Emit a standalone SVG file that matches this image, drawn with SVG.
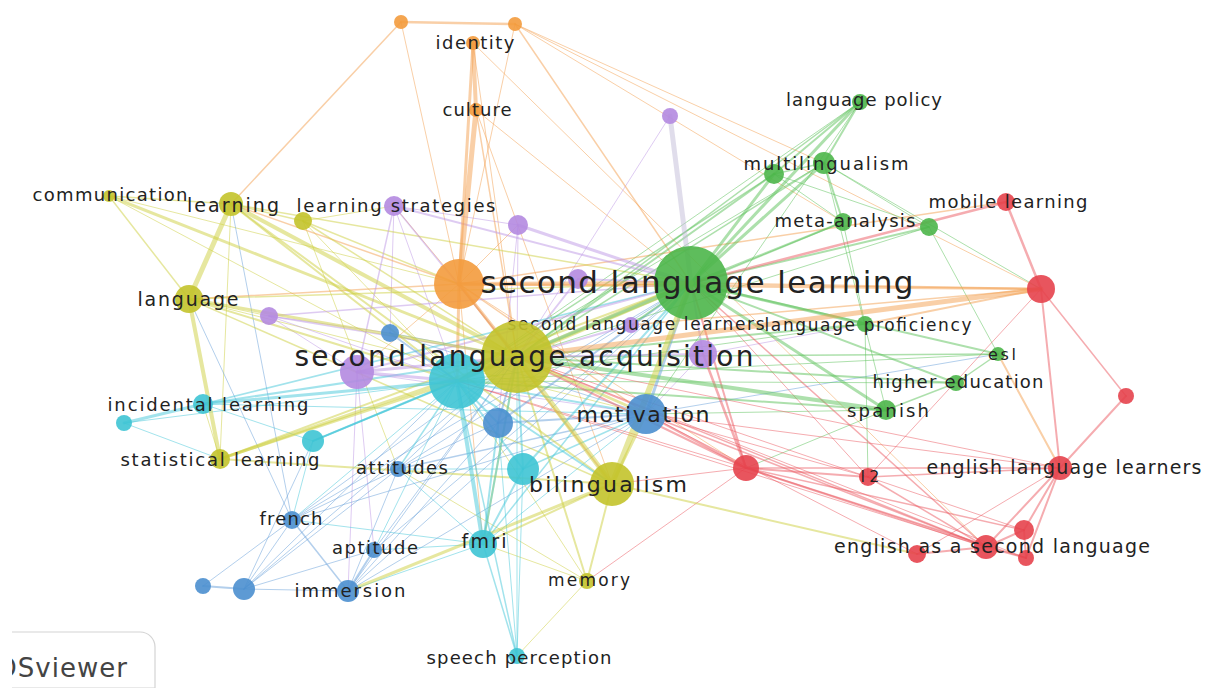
<svg xmlns="http://www.w3.org/2000/svg" width="1207" height="688" viewBox="0 0 1207 688">
<style>
#edges line{fill:none;stroke-linecap:round;stroke-opacity:.5}
.o{stroke:#f4a050}.y{stroke:#cdd040}.p{stroke:#bd98e6}.c{stroke:#45c8d9}.b{stroke:#67a0da}.g{stroke:#5cc259}.r{stroke:#eb5a61}
circle{fill-opacity:.9}
.no{fill:#f39b3d}.ny{fill:#c3c32b}.np{fill:#b48ae0}.nc{fill:#3ec4d4}.nb{fill:#4b8fcf}.ng{fill:#4cb64a}.nr{fill:#e6434c}
text{font-family:"DejaVu Sans","Noto Sans",sans-serif;fill:#222;text-anchor:middle}
</style>
<defs><clipPath id="clipLogo"><rect x="12" y="600" width="300" height="88"/></clipPath></defs>
<rect width="1207" height="688" fill="#fff"/>
<g id="edges">
<g stroke-width="1">
<line class="o" x1="401" y1="22" x2="459" y2="284"/><line class="o" x1="515" y1="24" x2="459" y2="284"/><line class="o" x1="515" y1="24" x2="824" y2="163"/><line class="o" x1="515" y1="24" x2="843" y2="222"/><line class="o" x1="515" y1="24" x2="1041" y2="289"/><line class="o" x1="476" y1="110" x2="691" y2="283"/><line class="o" x1="476" y1="110" x2="612" y2="484"/><line class="o" x1="473" y1="43" x2="517" y2="357"/><line class="o" x1="473" y1="43" x2="986" y2="547"/><line class="o" x1="459" y1="284" x2="357" y2="372"/><line class="o" x1="459" y1="284" x2="394" y2="206"/><line class="o" x1="459" y1="284" x2="483" y2="544"/><line class="o" x1="459" y1="284" x2="746" y2="468"/><line class="o" x1="518" y1="225" x2="459" y2="284"/>
<line class="y" x1="109" y1="196" x2="459" y2="284"/><line class="y" x1="109" y1="196" x2="457" y2="381"/><line class="y" x1="231" y1="204" x2="220" y2="459"/><line class="y" x1="303" y1="221" x2="457" y2="381"/><line class="y" x1="303" y1="221" x2="398" y2="469"/><line class="y" x1="189" y1="299" x2="269" y2="316"/><line class="y" x1="189" y1="299" x2="646" y2="414"/><line class="y" x1="220" y1="459" x2="203" y2="404"/><line class="y" x1="587" y1="581" x2="457" y2="381"/><line class="y" x1="587" y1="581" x2="483" y2="544"/><line class="y" x1="587" y1="581" x2="398" y2="469"/><line class="y" x1="394" y1="206" x2="303" y2="221"/><line class="y" x1="517" y1="656" x2="587" y2="581"/>
<line class="p" x1="394" y1="206" x2="457" y2="381"/><line class="p" x1="394" y1="206" x2="518" y2="225"/><line class="p" x1="394" y1="206" x2="390" y2="333"/><line class="p" x1="518" y1="225" x2="517" y2="357"/><line class="p" x1="518" y1="225" x2="498" y2="423"/><line class="p" x1="670" y1="116" x2="517" y2="357"/><line class="p" x1="269" y1="316" x2="357" y2="372"/><line class="p" x1="269" y1="316" x2="457" y2="381"/><line class="p" x1="269" y1="316" x2="390" y2="333"/><line class="p" x1="357" y1="372" x2="374" y2="550"/><line class="p" x1="357" y1="372" x2="348" y2="591"/><line class="p" x1="357" y1="372" x2="646" y2="414"/><line class="p" x1="703" y1="354" x2="865" y2="324"/><line class="p" x1="703" y1="354" x2="646" y2="414"/>
<line class="c" x1="124" y1="423" x2="457" y2="381"/><line class="c" x1="220" y1="459" x2="124" y2="423"/><line class="c" x1="457" y1="381" x2="292" y2="520"/><line class="c" x1="457" y1="381" x2="374" y2="550"/><line class="c" x1="203" y1="404" x2="313" y2="441"/><line class="c" x1="203" y1="404" x2="646" y2="414"/><line class="c" x1="313" y1="441" x2="292" y2="520"/><line class="c" x1="483" y1="544" x2="398" y2="469"/><line class="c" x1="483" y1="544" x2="292" y2="520"/><line class="c" x1="483" y1="544" x2="374" y2="550"/><line class="c" x1="483" y1="544" x2="348" y2="591"/><line class="c" x1="483" y1="544" x2="646" y2="414"/><line class="c" x1="523" y1="469" x2="517" y2="656"/><line class="c" x1="523" y1="469" x2="398" y2="469"/><line class="c" x1="517" y1="656" x2="517" y2="357"/><line class="c" x1="517" y1="656" x2="498" y2="423"/>
<line class="b" x1="231" y1="204" x2="292" y2="520"/><line class="b" x1="313" y1="441" x2="244" y2="589"/><line class="b" x1="390" y1="333" x2="646" y2="414"/><line class="b" x1="390" y1="333" x2="517" y2="357"/><line class="b" x1="498" y1="423" x2="398" y2="469"/><line class="b" x1="498" y1="423" x2="348" y2="591"/><line class="b" x1="646" y1="414" x2="292" y2="520"/><line class="b" x1="646" y1="414" x2="348" y2="591"/><line class="b" x1="646" y1="414" x2="998" y2="354"/><line class="b" x1="398" y1="469" x2="292" y2="520"/><line class="b" x1="398" y1="469" x2="244" y2="589"/><line class="b" x1="398" y1="469" x2="348" y2="591"/><line class="b" x1="398" y1="469" x2="517" y2="357"/><line class="b" x1="398" y1="469" x2="691" y2="283"/><line class="b" x1="292" y1="520" x2="203" y2="586"/><line class="b" x1="292" y1="520" x2="244" y2="589"/><line class="b" x1="292" y1="520" x2="517" y2="357"/><line class="b" x1="292" y1="520" x2="189" y2="299"/><line class="b" x1="292" y1="520" x2="691" y2="283"/><line class="b" x1="374" y1="550" x2="517" y2="357"/><line class="b" x1="374" y1="550" x2="244" y2="589"/><line class="b" x1="374" y1="550" x2="691" y2="283"/><line class="b" x1="244" y1="589" x2="348" y2="591"/><line class="b" x1="244" y1="589" x2="517" y2="357"/><line class="b" x1="244" y1="589" x2="457" y2="381"/><line class="b" x1="348" y1="591" x2="517" y2="357"/><line class="b" x1="348" y1="591" x2="691" y2="283"/>
<line class="g" x1="860" y1="102" x2="457" y2="381"/><line class="g" x1="860" y1="102" x2="646" y2="414"/><line class="g" x1="774" y1="174" x2="929" y2="227"/><line class="g" x1="774" y1="174" x2="843" y2="222"/><line class="g" x1="824" y1="163" x2="886" y2="410"/><line class="g" x1="824" y1="163" x2="1041" y2="289"/><line class="g" x1="824" y1="163" x2="929" y2="227"/><line class="g" x1="824" y1="163" x2="457" y2="381"/><line class="g" x1="843" y1="222" x2="865" y2="324"/><line class="g" x1="929" y1="227" x2="998" y2="354"/><line class="g" x1="929" y1="227" x2="517" y2="357"/><line class="g" x1="998" y1="354" x2="457" y2="381"/><line class="g" x1="956" y1="383" x2="457" y2="381"/><line class="g" x1="886" y1="410" x2="646" y2="414"/><line class="g" x1="886" y1="410" x2="746" y2="468"/><line class="g" x1="865" y1="324" x2="868" y2="477"/><line class="g" x1="865" y1="324" x2="457" y2="381"/>
<line class="r" x1="587" y1="581" x2="746" y2="468"/><line class="r" x1="612" y1="484" x2="746" y2="468"/><line class="r" x1="1041" y1="289" x2="868" y2="477"/><line class="r" x1="1060" y1="468" x2="917" y2="554"/><line class="r" x1="1060" y1="468" x2="646" y2="414"/><line class="r" x1="1060" y1="468" x2="517" y2="357"/><line class="r" x1="746" y1="468" x2="457" y2="381"/><line class="r" x1="646" y1="414" x2="868" y2="477"/><line class="r" x1="868" y1="477" x2="1024" y2="530"/><line class="r" x1="868" y1="477" x2="517" y2="357"/><line class="r" x1="868" y1="477" x2="691" y2="283"/><line class="r" x1="986" y1="547" x2="457" y2="381"/><line class="r" x1="917" y1="554" x2="646" y2="414"/><line class="r" x1="1026" y1="558" x2="517" y2="357"/>
</g>
<g stroke-width="1.5">
<line class="o" x1="401" y1="22" x2="231" y2="204"/><line class="o" x1="515" y1="24" x2="691" y2="283"/><line class="o" x1="476" y1="110" x2="517" y2="357"/><line class="o" x1="459" y1="284" x2="1006" y2="202"/><line class="o" x1="459" y1="284" x2="646" y2="414"/><line class="o" x1="459" y1="284" x2="231" y2="204"/><line class="o" x1="459" y1="284" x2="189" y2="299"/><line class="o" x1="631" y1="325" x2="1041" y2="289"/>
<line class="y" x1="109" y1="196" x2="231" y2="204"/><line class="y" x1="109" y1="196" x2="189" y2="299"/><line class="y" x1="231" y1="204" x2="303" y2="221"/><line class="y" x1="231" y1="204" x2="691" y2="283"/><line class="y" x1="303" y1="221" x2="517" y2="357"/><line class="y" x1="303" y1="221" x2="459" y2="284"/><line class="y" x1="189" y1="299" x2="691" y2="283"/><line class="y" x1="189" y1="299" x2="612" y2="484"/>
<line class="p" x1="394" y1="206" x2="357" y2="372"/><line class="p" x1="394" y1="206" x2="517" y2="357"/><line class="p" x1="269" y1="316" x2="691" y2="283"/><line class="p" x1="269" y1="316" x2="517" y2="357"/>
<line class="c" x1="457" y1="381" x2="517" y2="656"/><line class="c" x1="457" y1="381" x2="398" y2="469"/><line class="c" x1="313" y1="441" x2="517" y2="357"/><line class="c" x1="203" y1="404" x2="691" y2="283"/><line class="c" x1="313" y1="441" x2="691" y2="283"/><line class="c" x1="483" y1="544" x2="517" y2="656"/><line class="c" x1="483" y1="544" x2="691" y2="283"/><line class="c" x1="523" y1="469" x2="646" y2="414"/>
<line class="b" x1="646" y1="414" x2="398" y2="469"/><line class="b" x1="292" y1="520" x2="348" y2="591"/>
<line class="g" x1="860" y1="102" x2="517" y2="357"/><line class="g" x1="774" y1="174" x2="824" y2="163"/><line class="g" x1="774" y1="174" x2="457" y2="381"/><line class="g" x1="824" y1="163" x2="517" y2="357"/><line class="g" x1="843" y1="222" x2="517" y2="357"/><line class="g" x1="998" y1="354" x2="956" y2="383"/><line class="g" x1="998" y1="354" x2="517" y2="357"/><line class="g" x1="956" y1="383" x2="886" y2="410"/>
<line class="r" x1="1041" y1="289" x2="1126" y2="396"/><line class="r" x1="1060" y1="468" x2="868" y2="477"/><line class="r" x1="1060" y1="468" x2="746" y2="468"/><line class="r" x1="746" y1="468" x2="1024" y2="530"/><line class="r" x1="746" y1="468" x2="1026" y2="558"/><line class="r" x1="646" y1="414" x2="986" y2="547"/><line class="r" x1="868" y1="477" x2="986" y2="547"/><line class="r" x1="986" y1="547" x2="691" y2="283"/><line class="r" x1="986" y1="547" x2="517" y2="357"/>
</g>
<g stroke-width="2">
<line class="o" x1="459" y1="284" x2="612" y2="484"/><line class="o" x1="1041" y1="289" x2="691" y2="283"/><line class="o" x1="865" y1="324" x2="1041" y2="289"/><line class="o" x1="998" y1="354" x2="1060" y2="468"/>
<line class="y" x1="231" y1="204" x2="457" y2="381"/><line class="y" x1="231" y1="204" x2="612" y2="484"/><line class="y" x1="189" y1="299" x2="457" y2="381"/><line class="y" x1="220" y1="459" x2="612" y2="484"/><line class="y" x1="220" y1="459" x2="691" y2="283"/><line class="y" x1="517" y1="357" x2="587" y2="581"/><line class="y" x1="517" y1="357" x2="483" y2="544"/><line class="y" x1="612" y1="484" x2="587" y2="581"/><line class="y" x1="612" y1="484" x2="483" y2="544"/><line class="y" x1="612" y1="484" x2="917" y2="554"/>
<line class="p" x1="394" y1="206" x2="691" y2="283"/><line class="p" x1="578" y1="279" x2="691" y2="283"/><line class="p" x1="578" y1="279" x2="517" y2="357"/><line class="p" x1="357" y1="372" x2="691" y2="283"/><line class="p" x1="631" y1="325" x2="517" y2="357"/><line class="p" x1="703" y1="354" x2="691" y2="283"/><line class="p" x1="703" y1="354" x2="517" y2="357"/>
<line class="c" x1="457" y1="381" x2="313" y2="441"/><line class="c" x1="457" y1="381" x2="523" y2="469"/><line class="c" x1="457" y1="381" x2="646" y2="414"/><line class="c" x1="457" y1="381" x2="498" y2="423"/><line class="c" x1="457" y1="381" x2="612" y2="484"/><line class="c" x1="203" y1="404" x2="517" y2="357"/><line class="c" x1="483" y1="544" x2="523" y2="469"/><line class="c" x1="483" y1="544" x2="498" y2="423"/><line class="c" x1="483" y1="544" x2="517" y2="357"/><line class="c" x1="523" y1="469" x2="517" y2="357"/><line class="c" x1="523" y1="469" x2="691" y2="283"/>
<line class="b" x1="390" y1="333" x2="457" y2="381"/><line class="b" x1="498" y1="423" x2="646" y2="414"/><line class="b" x1="498" y1="423" x2="517" y2="357"/><line class="b" x1="498" y1="423" x2="691" y2="283"/><line class="b" x1="374" y1="550" x2="348" y2="591"/><line class="b" x1="203" y1="586" x2="244" y2="589"/>
<line class="g" x1="631" y1="325" x2="691" y2="283"/><line class="g" x1="691" y1="283" x2="843" y2="222"/><line class="g" x1="691" y1="283" x2="929" y2="227"/><line class="g" x1="691" y1="283" x2="998" y2="354"/><line class="g" x1="691" y1="283" x2="956" y2="383"/><line class="g" x1="860" y1="102" x2="774" y2="174"/><line class="g" x1="860" y1="102" x2="824" y2="163"/><line class="g" x1="774" y1="174" x2="517" y2="357"/><line class="g" x1="824" y1="163" x2="843" y2="222"/><line class="g" x1="956" y1="383" x2="517" y2="357"/><line class="g" x1="886" y1="410" x2="457" y2="381"/><line class="g" x1="865" y1="324" x2="517" y2="357"/>
<line class="r" x1="1126" y1="396" x2="1060" y2="468"/><line class="r" x1="1041" y1="289" x2="1060" y2="468"/><line class="r" x1="1060" y1="468" x2="1024" y2="530"/><line class="r" x1="1060" y1="468" x2="986" y2="547"/><line class="r" x1="1060" y1="468" x2="1026" y2="558"/><line class="r" x1="646" y1="414" x2="746" y2="468"/><line class="r" x1="746" y1="468" x2="868" y2="477"/><line class="r" x1="746" y1="468" x2="986" y2="547"/><line class="r" x1="746" y1="468" x2="691" y2="283"/><line class="r" x1="746" y1="468" x2="517" y2="357"/><line class="r" x1="986" y1="547" x2="917" y2="554"/><line class="r" x1="986" y1="547" x2="1024" y2="530"/><line class="r" x1="986" y1="547" x2="1026" y2="558"/><line class="r" x1="1024" y1="530" x2="1026" y2="558"/>
</g>
<g stroke-width="2.5">
<line class="o" x1="401" y1="22" x2="515" y2="24"/><line class="o" x1="459" y1="284" x2="1041" y2="289"/>
<line class="y" x1="220" y1="459" x2="457" y2="381"/>
<line class="r" x1="1006" y1="202" x2="1041" y2="289"/><line class="r" x1="691" y1="283" x2="1006" y2="202"/><line class="r" x1="703" y1="354" x2="746" y2="468"/>
</g>
<g stroke-width="3">
<line class="o" x1="473" y1="43" x2="459" y2="284"/><line class="o" x1="459" y1="284" x2="517" y2="357"/><line class="o" x1="459" y1="284" x2="457" y2="381"/>
<line class="y" x1="109" y1="196" x2="517" y2="357"/><line class="y" x1="189" y1="299" x2="517" y2="357"/><line class="y" x1="220" y1="459" x2="517" y2="357"/><line class="y" x1="517" y1="357" x2="646" y2="414"/><line class="y" x1="612" y1="484" x2="646" y2="414"/><line class="y" x1="612" y1="484" x2="348" y2="591"/>
<line class="p" x1="518" y1="225" x2="691" y2="283"/><line class="p" x1="357" y1="372" x2="517" y2="357"/><line class="p" x1="357" y1="372" x2="457" y2="381"/>
<line class="c" x1="457" y1="381" x2="203" y2="404"/><line class="c" x1="203" y1="404" x2="124" y2="423"/><line class="c" x1="457" y1="381" x2="691" y2="283"/>
<line class="b" x1="646" y1="414" x2="691" y2="283"/>
<line class="g" x1="691" y1="283" x2="860" y2="102"/><line class="g" x1="691" y1="283" x2="774" y2="174"/><line class="g" x1="691" y1="283" x2="824" y2="163"/><line class="g" x1="691" y1="283" x2="865" y2="324"/><line class="g" x1="691" y1="283" x2="886" y2="410"/>
</g>
<g stroke-width="4">
<line class="o" x1="473" y1="43" x2="476" y2="110"/><line class="o" x1="459" y1="284" x2="691" y2="283"/>
<line class="y" x1="231" y1="204" x2="517" y2="357"/><line class="y" x1="189" y1="299" x2="220" y2="459"/><line class="y" x1="517" y1="357" x2="457" y2="381"/>
<line class="c" x1="457" y1="381" x2="483" y2="544"/>
<line class="g" x1="886" y1="410" x2="517" y2="357"/>
</g>
<g stroke-width="5">
<line class="o" x1="476" y1="110" x2="459" y2="284"/><line class="o" x1="517" y1="357" x2="1041" y2="289"/>
<line class="y" x1="231" y1="204" x2="189" y2="299"/><line class="y" x1="517" y1="357" x2="612" y2="484"/><line class="y" x1="517" y1="357" x2="691" y2="283"/>
<line class="p" x1="670" y1="116" x2="691" y2="283" style="stroke:#c2bcd8"/>
</g>
<g stroke-width="6">
<line class="y" x1="612" y1="484" x2="691" y2="283"/>
</g>
</g>
<g id="nodes">
<g id="n-o1"><circle class="no" cx="401" cy="22" r="7"/></g>
<g id="n-o2"><circle class="no" cx="515" cy="24" r="7"/></g>
<g id="n-o3"><circle class="no" cx="459" cy="284" r="25"/></g>
<g id="n-y3"><circle class="ny" cx="303" cy="221" r="9"/></g>
<g id="n-p2"><circle class="np" cx="518" cy="225" r="10"/></g>
<g id="n-p3"><circle class="np" cx="670" cy="116" r="8"/></g>
<g id="n-p4"><circle class="np" cx="578" cy="279" r="10"/></g>
<g id="n-p5"><circle class="np" cx="269" cy="316" r="9"/></g>
<g id="n-p6"><circle class="np" cx="357" cy="372" r="17"/></g>
<g id="n-p8"><circle class="np" cx="703" cy="354" r="14"/></g>
<g id="n-c1"><circle class="nc" cx="457" cy="381" r="28"/></g>
<g id="n-c3"><circle class="nc" cx="124" cy="423" r="8"/></g>
<g id="n-c4"><circle class="nc" cx="313" cy="441" r="11"/></g>
<g id="n-c5"><circle class="nc" cx="523" cy="469" r="16"/></g>
<g id="n-b1"><circle class="nb" cx="390" cy="333" r="9"/></g>
<g id="n-b2"><circle class="nb" cx="498" cy="423" r="15"/></g>
<g id="n-b7"><circle class="nb" cx="203" cy="586" r="8"/></g>
<g id="n-b8"><circle class="nb" cx="244" cy="589" r="11"/></g>
<g id="n-g2"><circle class="ng" cx="774" cy="174" r="10"/></g>
<g id="n-g6"><circle class="ng" cx="929" cy="227" r="9"/></g>
<g id="n-r2"><circle class="nr" cx="1041" cy="289" r="14"/></g>
<g id="n-r3"><circle class="nr" cx="746" cy="468" r="13"/></g>
<g id="n-r5"><circle class="nr" cx="1126" cy="396" r="8"/></g>
<g id="n-r7"><circle class="nr" cx="1024" cy="530" r="10"/></g>
<g id="n-r9"><circle class="nr" cx="917" cy="554" r="9"/></g>
<g id="n-r10"><circle class="nr" cx="1026" cy="558" r="8"/></g>
<g id="n-identity"><circle class="no" cx="473" cy="43" r="7"/><text x="475" y="49" font-size="18" textLength="79">identity</text></g>
<g id="n-culture"><circle class="no" cx="476" cy="110" r="7"/><text x="477" y="116" font-size="18" textLength="69">culture</text></g>
<g id="n-communication"><circle class="ny" cx="109" cy="196" r="6"/><text x="110" y="201" font-size="18" textLength="155">communication</text></g>
<g id="n-learning"><circle class="ny" cx="231" cy="204" r="12"/><text x="233" y="212" font-size="19" textLength="92">learning</text></g>
<g id="n-learning-strategies"><circle class="np" cx="394" cy="206" r="10"/><text x="396" y="212" font-size="18" textLength="199">learning strategies</text></g>
<g id="n-language-policy"><circle class="ng" cx="860" cy="102" r="8"/><text x="864" y="106" font-size="18" textLength="156">language policy</text></g>
<g id="n-multilingualism"><circle class="ng" cx="824" cy="163" r="11"/><text x="826" y="170" font-size="18" textLength="165">multilingualism</text></g>
<g id="n-mobile-learning"><circle class="nr" cx="1006" cy="202" r="9"/><text x="1008" y="208" font-size="18" textLength="159">mobile learning</text></g>
<g id="n-meta-analysis"><circle class="ng" cx="843" cy="222" r="9"/><text x="845" y="227" font-size="18" textLength="141">meta-analysis</text></g>
<g id="n-language"><circle class="ny" cx="189" cy="299" r="14"/><text x="188" y="306" font-size="19" textLength="101">language</text></g>
<g id="n-second-language-learning"><circle class="ng" cx="691" cy="283" r="37"/><text x="697" y="293" font-size="31" textLength="433">second language learning</text></g>
<g id="n-second-language-learners"><circle class="np" cx="631" cy="325" r="8"/><text x="636" y="330" font-size="17" textLength="257">second language learners</text></g>
<g id="n-language-proficiency"><circle class="ng" cx="865" cy="324" r="8"/><text x="868" y="331" font-size="17" textLength="207">language proficiency</text></g>
<g id="n-second-language-acquisition"><circle class="ny" cx="517" cy="357" r="36"/><text x="524" y="366" font-size="28" textLength="459">second language acquisition</text></g>
<g id="n-esl"><circle class="ng" cx="998" cy="354" r="7"/><text x="1002" y="360" font-size="16" textLength="28">esl</text></g>
<g id="n-higher-education"><circle class="ng" cx="956" cy="383" r="8"/><text x="958" y="388" font-size="18" textLength="171">higher education</text></g>
<g id="n-spanish"><circle class="ng" cx="886" cy="410" r="10"/><text x="888" y="417" font-size="18" textLength="82">spanish</text></g>
<g id="n-motivation"><circle class="nb" cx="646" cy="414" r="20"/><text x="643" y="422" font-size="22" textLength="133">motivation</text></g>
<g id="n-incidental-learning"><circle class="nc" cx="203" cy="404" r="10"/><text x="208" y="411" font-size="18" textLength="201">incidental learning</text></g>
<g id="n-statistical-learning"><circle class="ny" cx="220" cy="459" r="10"/><text x="220" y="466" font-size="18" textLength="199">statistical learning</text></g>
<g id="n-attitudes"><circle class="nb" cx="398" cy="469" r="8"/><text x="402" y="474" font-size="18" textLength="92">attitudes</text></g>
<g id="n-bilingualism"><circle class="ny" cx="612" cy="484" r="22"/><text x="608" y="492" font-size="22" textLength="158">bilingualism</text></g>
<g id="n-l2"><circle class="nr" cx="868" cy="477" r="9"/><text x="870" y="482" font-size="16" textLength="19">l2</text></g>
<g id="n-english-language-learners"><circle class="nr" cx="1060" cy="468" r="12"/><text x="1064" y="474" font-size="19" textLength="275">english language learners</text></g>
<g id="n-english-as-a-second-language"><circle class="nr" cx="986" cy="547" r="12"/><text x="992" y="553" font-size="19" textLength="316">english as a second language</text></g>
<g id="n-french"><circle class="nb" cx="292" cy="520" r="9"/><text x="291" y="525" font-size="18" textLength="63">french</text></g>
<g id="n-aptitude"><circle class="nb" cx="374" cy="550" r="8"/><text x="375" y="554" font-size="18" textLength="86">aptitude</text></g>
<g id="n-fmri"><circle class="nc" cx="483" cy="544" r="14"/><text x="484" y="548" font-size="19" textLength="45">fmri</text></g>
<g id="n-memory"><circle class="ny" cx="587" cy="581" r="8"/><text x="589" y="586" font-size="17" textLength="82">memory</text></g>
<g id="n-immersion"><circle class="nb" cx="348" cy="591" r="11"/><text x="350" y="597" font-size="18" textLength="111">immersion</text></g>
<g id="n-speech-perception"><circle class="nc" cx="517" cy="656" r="8"/><text x="519" y="664" font-size="18" textLength="185">speech perception</text></g>
</g>
<g id="logo" clip-path="url(#clipLogo)">
<path d="M0 632H140A15 15 0 0 1 155 647V688H0Z" fill="#fff" stroke="#d4d4d4" stroke-width="1.2"/>
<text x="-22" y="677" font-size="26" textLength="149" style="text-anchor:start;fill:#444">VOSviewer</text>
</g>
</svg>
